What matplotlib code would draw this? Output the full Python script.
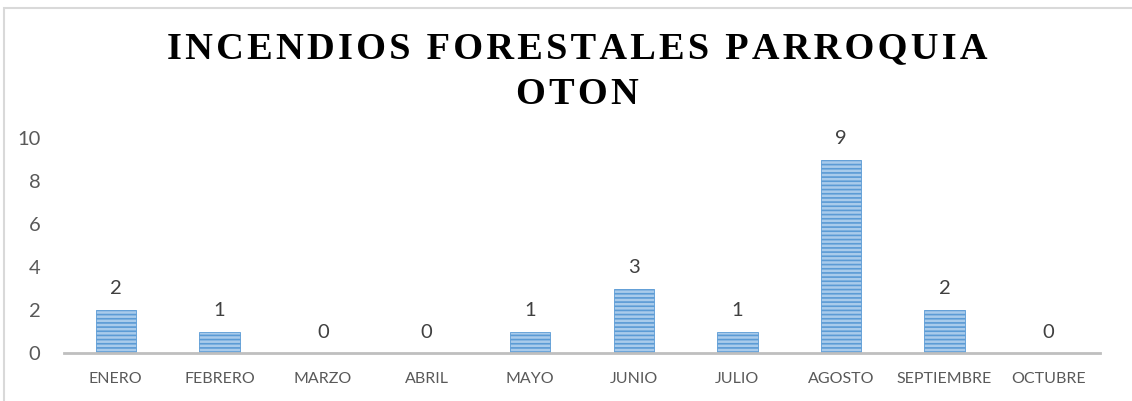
import matplotlib.pyplot as plt
from matplotlib.patches import Rectangle

meses = ['ENERO', 'FEBRERO', 'MARZO', 'ABRIL', 'MAYO', 'JUNIO', 'JULIO',
         'AGOSTO', 'SEPTIEMBRE', 'OCTUBRE']
incendios = [2, 1, 0, 0, 1, 3, 1, 9, 2, 0]
yticks = [0, 2, 4, 6, 8, 10]
titulo = ['INCENDIOS FORESTALES PARROQUIA', 'OTON']

plt.rcParams['hatch.linewidth'] = 1.2

fig = plt.figure(figsize=(11.32, 4.01), dpi=100)
ax = fig.add_axes([64 / 1132, 48 / 401, 1036 / 1132, 215 / 401])

x = range(len(meses))
ax.bar(x, incendios, width=0.39, color='#A9CBEB', edgecolor='#5B9BD5',
       hatch='----', linewidth=0.6)

for i, v in zip(x, incendios):
    ax.annotate(str(v), (i, v), xytext=(0, 9), textcoords='offset points',
                ha='center', va='bottom', fontsize=14.5, color='#404040',
                family='Lato')

ax.set_xlim(-0.5, len(meses) - 0.5)
ax.set_ylim(0, 10)
ax.set_yticks(yticks)
ax.set_xticks(list(x))
ax.set_xticklabels(meses, fontsize=11.5, color='#595959', family='Lato')
ax.set_yticklabels([str(t) for t in yticks], fontsize=14.5, color='#595959',
                   family='Lato')
ax.tick_params(axis='both', length=0)
ax.tick_params(axis='x', pad=14)
ax.tick_params(axis='y', pad=17)
for s in ['top', 'right', 'left']:
    ax.spines[s].set_visible(False)
ax.spines['bottom'].set_color('#BFBFBF')
ax.spines['bottom'].set_linewidth(2)

# title with spaced letters
sp = '\u200a'
for txt, yy in zip(titulo, [49, 94]):
    spaced = sp.join(txt)
    fig.text(577 / 1132, 1 - yy / 401, spaced, ha='center', va='center',
             fontsize=27.6, fontweight='bold', family='Liberation Serif',
             color='black')

fig.patches.append(Rectangle((4 / 1132, -0.1), 1.2, 1.1 - 8 / 401,
                             transform=fig.transFigure, fill=False,
                             edgecolor='#D9D9D9', linewidth=1.5))

fig.savefig('out.png', dpi=100)
